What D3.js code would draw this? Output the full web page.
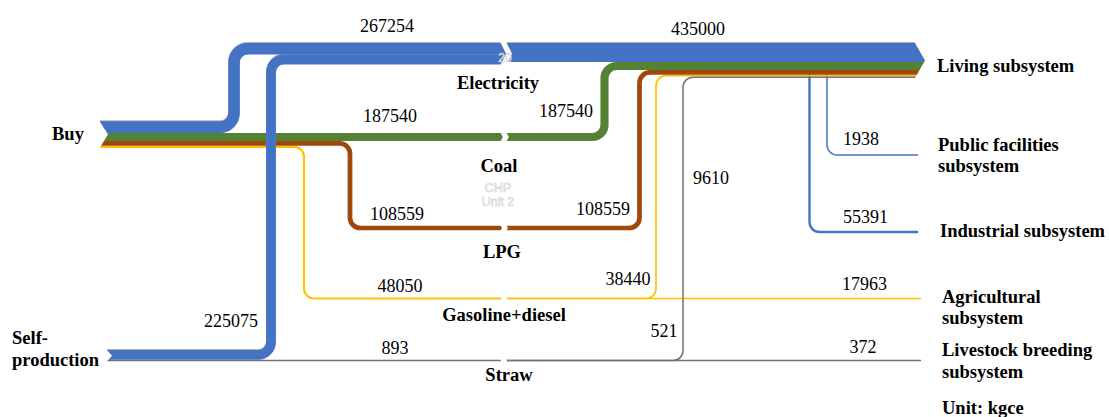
<!DOCTYPE html>
<html>
<head>
<meta charset="utf-8">
<script src="https://cdn.jsdelivr.net/npm/d3@7"></script>
<style>
  html, body { margin: 0; padding: 0; background: #ffffff; }
  svg { display: block; }
  text { font-family: "Liberation Serif", "Times New Roman", serif; fill: #000; }
</style>
</head>
<body>
<svg id="chart" width="1109" height="417"></svg>
<script>
// ---- Energy flows (unit: kgce) ----
const sources = ["Buy", "Self-production"];
const carriers = ["Electricity", "Coal", "LPG", "Gasoline+diesel", "Straw"];
const sinks = ["Living", "Public facilities", "Industrial", "Agricultural", "Livestock breeding"];

const inflows = [
  { from: "Buy", to: "Electricity", value: 267254 },
  { from: "Self-production", to: "Electricity", value: 225075 },
  { from: "Buy", to: "Coal", value: 187540 },
  { from: "Buy", to: "LPG", value: 108559 },
  { from: "Buy", to: "Gasoline+diesel", value: 48050 },
  { from: "Self-production", to: "Straw", value: 893 }
];

const outflows = [
  { from: "Electricity", to: "Living", value: 435000 },
  { from: "Electricity", to: "Public facilities", value: 1938 },
  { from: "Electricity", to: "Industrial", value: 55391 },
  { from: "Coal", to: "Living", value: 187540 },
  { from: "LPG", to: "Living", value: 108559 },
  { from: "Gasoline+diesel", to: "Living", value: 38440 },
  { from: "Gasoline+diesel", to: "Agricultural", value: 17963 },
  { from: "Straw", to: "Living", value: 521 },
  { from: "Straw", to: "Livestock breeding", value: 372 }
];

const sideNotes = [9610];
const sourceLabels = [["Buy"], ["Self-", "production"]];
const sinkLabels = [["Living subsystem"], ["Public facilities", "subsystem"], ["Industrial subsystem"],
                    ["Agricultural", "subsystem"], ["Livestock breeding", "subsystem"]];
const unitText = "Unit: kgce";
const hiddenNodeText = ["CHP", "Unit 2"];

// ---- Scales ----
const color = d3.scaleOrdinal().domain(carriers)
  .range(["#4472C4", "#548235", "#9E480E", "#FFC000", "#767171"]);
const widthScale = d3.scaleLinear().domain([0, 23000]).range([0, 1]);
const bw = v => Math.max(1.5, widthScale(v));

// ---- Layout ----
const tailX = d3.scaleOrdinal().domain(sources).range([100, 107]);
const stackTop = d3.scaleOrdinal().domain(sources).range([121.3, 350]);
const laneY = d3.scaleOrdinal().domain(["LPG", "Gasoline+diesel"]).range([228, 298.5]);
const downX = d3.scaleOrdinal()
  .domain(["Buy|Electricity", "Self-production|Electricity", "Buy|Gasoline+diesel", "Buy|LPG"])
  .range([234, 271, 304, 350]);
const upX = d3.scaleOrdinal().domain(["Coal", "LPG", "Gasoline+diesel", "Straw"])
  .range([604.5, 639.5, 656, 683]);
const branchX = d3.scaleOrdinal().domain(["Industrial", "Public facilities"]).range([809.5, 827]);
const branchY = d3.scaleOrdinal().domain(["Industrial", "Public facilities"]).range([232, 155]);
const bandTop = 43;          // top edge of the electricity band and living stack
const gapX = 506;            // carrier node position (break in each lane)
const arrowTip = 925, arrowBase = 915, lineEnd = 918, lineEnd2 = 921;

function rounded(pts, r) {
  const p = d3.path();
  p.moveTo(pts[0][0], pts[0][1]);
  for (let i = 1; i < pts.length - 1; i++) {
    p.arcTo(pts[i][0], pts[i][1], pts[i + 1][0], pts[i + 1][1], r);
  }
  p.lineTo(pts[pts.length - 1][0], pts[pts.length - 1][1]);
  return p.toString();
}
const radius = w => Math.max(10, w / 2 + 8);

// source stacks
const srcCenter = new Map();
sources.forEach(s => {
  let y = stackTop(s);
  inflows.filter(f => f.from === s).forEach(f => {
    const w = bw(f.value);
    srcCenter.set(f, y + w / 2);
    y += w;
  });
});
// electricity band: inflows stacked from the top edge
const elecInCenter = new Map();
{
  let y = bandTop;
  inflows.filter(f => f.to === "Electricity").forEach(f => {
    const w = bw(f.value);
    elecInCenter.set(f, y + w / 2);
    y += w;
  });
}
// carrier lane centre at the node
const laneCenter = new Map();
inflows.forEach(f => {
  if (f.to === "Electricity") return;
  laneCenter.set(f.to, laneY.domain().includes(f.to) ? laneY(f.to) : srcCenter.get(f));
});
// living stack
const livingCenter = new Map();
let livingBottom = bandTop;
outflows.filter(f => f.to === "Living").forEach(f => {
  const w = bw(f.value);
  livingCenter.set(f, livingBottom + w / 2);
  livingBottom += w;
});
const elecOutCenter = livingCenter.get(outflows[0]);
laneCenter.set("Electricity", elecOutCenter);

// ---- Build flow geometry ----
const flows = [];
inflows.forEach(f => {
  const x0 = tailX(f.from), y0 = srcCenter.get(f);
  const y1 = f.to === "Electricity" ? elecInCenter.get(f) : laneCenter.get(f.to);
  const w = bw(f.value);
  const pts = Math.abs(y1 - y0) < 0.5
    ? [[x0, y0], [gapX, y0]]
    : [[x0, y0], [downX(f.from + "|" + f.to), y0], [downX(f.from + "|" + f.to), y1], [gapX, y1]];
  flows.push({ carrier: f.to, w, d: rounded(pts, radius(w)), branch: false });
});
outflows.forEach(f => {
  const w = bw(f.value);
  const y0 = laneCenter.get(f.from);
  let pts, branch = false;
  if (f.to === "Living") {
    const y1 = livingCenter.get(f);
    pts = Math.abs(y1 - y0) < 0.5
      ? [[gapX, y0], [arrowTip, y0]]
      : [[gapX, y0], [upX(f.from), y0], [upX(f.from), y1], [arrowTip, y1]];
  } else if (f.from === "Electricity") {
    branch = true;
    const bx = branchX(f.to), by = branchY(f.to);
    pts = [[bx, y0], [bx, by], [lineEnd, by]];
  } else {
    pts = [[gapX, y0], [lineEnd2, y0]];
  }
  flows.push({ carrier: f.from, w, d: rounded(pts, radius(w)), branch });
});

const svg = d3.select("#chart");
const gFlows = svg.append("g").attr("fill", "none").attr("stroke-linecap", "butt");

// branches first so they sit beneath the living stack
gFlows.selectAll("path.branch").data(flows.filter(f => f.branch)).join("path")
  .attr("class", "branch").attr("d", f => f.d)
  .attr("stroke", f => color(f.carrier)).attr("stroke-width", f => f.w);

const drawOrder = ["Gasoline+diesel", "LPG", "Coal", "Straw", "Electricity"];
drawOrder.forEach(c => {
  const sel = flows.filter(f => !f.branch && f.carrier === c);
  if (c === "Electricity") {
    gFlows.selectAll("path.edge").data(sel).join("path")
      .attr("class", "edge").attr("d", f => f.d)
      .attr("transform", "translate(0,-1)")
      .attr("stroke", "#b3b3b3").attr("stroke-width", f => f.w);
  }
  gFlows.selectAll("path.c" + carriers.indexOf(c)).data(sel).join("path")
    .attr("class", "c" + carriers.indexOf(c)).attr("d", f => f.d)
    .attr("stroke", color(c)).attr("stroke-width", f => f.w);
});

// ---- Node breaks (white chevrons) ----
const gCuts = svg.append("g").attr("fill", "#ffffff");
carriers.forEach(c => {
  let top, bot;
  if (c === "Electricity") {
    top = bandTop;
    bot = bandTop + d3.sum(inflows.filter(f => f.to === c), f => bw(f.value));
  } else {
    const w = d3.max(inflows.filter(f => f.to === c).concat(outflows.filter(f => f.from === c)), f => bw(f.value));
    top = laneCenter.get(c) - w / 2;
    bot = laneCenter.get(c) + w / 2;
  }
  top -= 1.5; bot += 1.5;
  const mid = (top + bot) / 2, g = 6, d = Math.min(6, (bot - top) * 0.25), x0 = gapX - 6;
  gCuts.append("polygon").attr("points",
    [[x0, top], [x0 + g, top], [x0 + g + d, mid], [x0 + g, bot], [x0, bot], [x0 + d, mid]].join(" "));
});

// tail notches at the sources
sources.forEach(s => {
  const top = stackTop(s);
  const bot = top + d3.sum(inflows.filter(f => f.from === s), f => bw(f.value));
  const mid = (top + bot) / 2, depth = s === "Buy" ? 8 : 5, x = tailX(s);
  gCuts.append("polygon").attr("points",
    [[x - 1, top - 1], [x + depth, mid], [x - 1, bot + 1]].join(" "));
});

// arrow head on the living stack
{
  const mid = (bandTop + livingBottom) / 2;
  const slope = (arrowTip - arrowBase) / (mid - bandTop);
  const ext = 3;
  gCuts.append("polygon").attr("points",
    [[arrowBase - ext * slope, bandTop - ext], [arrowTip + 20, bandTop - ext],
     [arrowTip + 20, livingBottom + ext], [arrowBase - ext * slope, livingBottom + ext],
     [arrowTip, mid]].join(" "));
}

// ---- Labels ----
const gText = svg.append("g");
const numFmt = d3.format("d");

// faint node captions left in the breaks
gText.append("text").attr("x", gapX - 1).attr("y", 62).attr("text-anchor", "middle")
  .style("font-family", "Arial, 'Liberation Sans', sans-serif").style("font-size", "12px")
  .style("fill", "#ffffff").attr("stroke", "#c9c9c9").attr("stroke-width", 0.5).text("20");
hiddenNodeText.forEach((t, i) => {
  gText.append("text").attr("x", gapX - 8).attr("y", 192 + i * 14).attr("text-anchor", "middle")
    .style("font-family", "Arial, 'Liberation Sans', sans-serif").style("font-size", "12.5px")
    .style("fill", "#ffffff").attr("stroke", "#cfcfcf").attr("stroke-width", 0.6).text(t);
});

// flow values
const inLabelPos = [[387, 32, "middle"], [231, 327, "middle"], [390, 122, "middle"],
                    [397, 220, "middle"], [400, 292, "middle"], [395, 354, "middle"]];
const outLabelPos = [[698, 35, "middle"], [843, 145, "start"], [843, 223, "start"],
                     [566, 117, "middle"], [603, 215, "middle"], [628, 285, "middle"],
                     [842, 290, "start"], [664, 337, "middle"], [863, 353, "middle"]];
const noteLabelPos = [[711, 184, "middle"]];

function valueLabels(data, pos) {
  gText.selectAll(null).data(data).join("text")
    .attr("x", (d, i) => pos[i][0]).attr("y", (d, i) => pos[i][1])
    .attr("text-anchor", (d, i) => pos[i][2])
    .style("font-size", "18px")
    .text(d => numFmt(typeof d === "number" ? d : d.value));
}
valueLabels(inflows, inLabelPos);
valueLabels(outflows, outLabelPos);
valueLabels(sideNotes, noteLabelPos);

// carrier names
const carrierLabelPos = [[498, 89], [499, 172], [502, 258], [504, 321], [509, 381]];
gText.selectAll(null).data(carriers).join("text")
  .attr("x", (d, i) => carrierLabelPos[i][0]).attr("y", (d, i) => carrierLabelPos[i][1])
  .attr("text-anchor", "middle").style("font-size", "18.5px").style("font-weight", "bold")
  .text(d => d);

// source and sink names
function blockLabels(lines, x, ys) {
  lines.forEach((t, i) => {
    gText.append("text").attr("x", x).attr("y", ys[i])
      .style("font-size", "18.5px").style("font-weight", "bold").text(t);
  });
}
const sourceLabelPos = [[52, [140]], [12, [344, 366]]];
sourceLabels.forEach((l, i) => blockLabels(l, sourceLabelPos[i][0], sourceLabelPos[i][1]));
const sinkLabelPos = [[937, [72]], [938, [151, 172]], [940, [237]], [942, [303, 324]], [942, [356, 378]]];
sinkLabels.forEach((l, i) => blockLabels(l, sinkLabelPos[i][0], sinkLabelPos[i][1]));
blockLabels([unitText], 942, [414]);
</script>
</body>
</html>
